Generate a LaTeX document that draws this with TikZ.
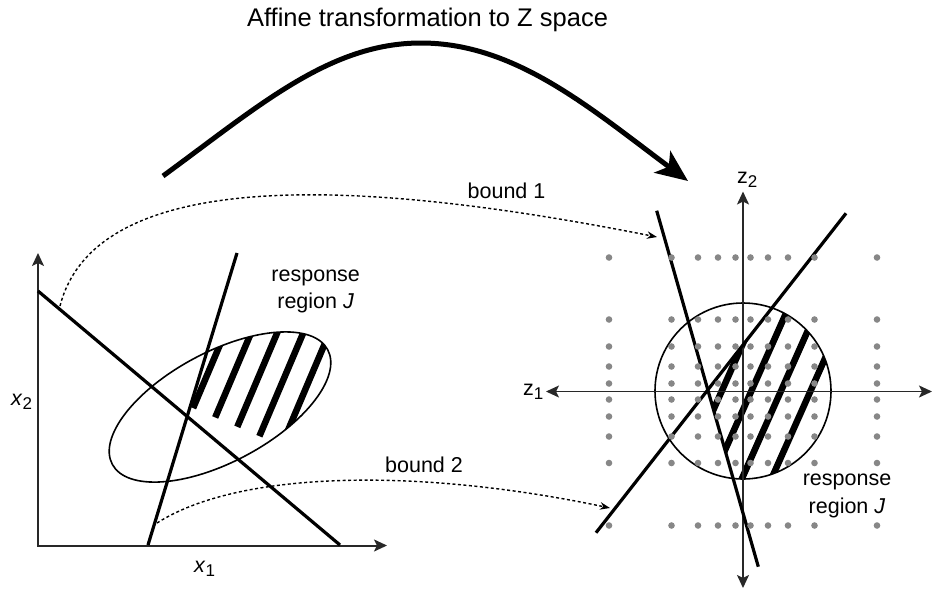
\documentclass[tikz,border=0pt]{standalone}
\usepackage{fontspec}
\setmainfont{Liberation Sans}
\usetikzlibrary{arrows.meta}
\definecolor{dotgray}{RGB}{135,135,135}
\definecolor{axisgray}{RGB}{40,40,40}
\newcommand{\lowsub}[1]{\raisebox{-4pt}{\fontsize{17}{17}\selectfont #1}}
\tikzset{axtip/.tip={Stealth[length=13pt,width=12pt,inset=3pt]}}
\begin{document}
\begin{tikzpicture}[x=1pt,y=-1pt,
  lbl/.style={font=\fontsize{21.5}{26}\selectfont, inner sep=0pt, anchor=base},
  axlbl/.style={font=\fontsize{21.5}{26}\selectfont, inner sep=0pt, anchor=base west},
  axisline/.style={line width=2pt, draw=axisgray},
  zaxisline/.style={line width=1.6pt, draw=axisgray},
  boundline/.style={line width=3.2pt},
  hatchline/.style={line width=6.5pt},
  rim/.style={line width=1.6pt},
  conn/.style={line width=1.4pt, dash pattern=on 3pt off 2.5pt, -{Stealth[length=10pt,width=7.5pt]}},
  bigarrow/.style={line width=5pt, -{Stealth[length=32pt,width=27pt,inset=8pt]}}
]
\useasboundingbox (0,0) rectangle (934,590);

% ---------- title and big arrow ----------
\node[font=\fontsize{25.5}{30}\selectfont, inner sep=0pt, anchor=base] (title) at (427.5,26.7) {Affine transformation to Z space};
\coordinate (arcS) at (163,176);
\coordinate (arcM) at (421,43);
\coordinate (arcE) at (688,181);
\draw[bigarrow] (arcS) .. controls (260,105) and (330,43) .. (arcM) .. controls (515,43) and (590,108) .. (arcE);

% ---------- left plot ----------
\coordinate (O) at (38,545.5);
\coordinate (X2) at (38,253);
\coordinate (X1) at (387,545.5);
\coordinate (L1a) at (38,291);
\coordinate (L1b) at (340,545);
\coordinate (L2a) at (148,545);
\coordinate (L2b) at (237,253);
\coordinate (E) at (220,407);
\coordinate (P) at (187.2,416.5);

\begin{scope}
  \clip[rotate around={28:(E)}] (E) ellipse [x radius=122, y radius=55];
  \clip (P) -- (253.2,200) -- (450,200) -- (450,637.5) -- cycle;
  \foreach \c in {337,361,385,409,433}
    \draw[hatchline] ({\c*0.921-300*0.391},{\c*0.391+300*0.921}) -- ({\c*0.921+300*0.391},{\c*0.391-300*0.921});
\end{scope}
\draw[rim, rotate around={28:(E)}] (E) ellipse [x radius=122, y radius=55];

\draw[axisline, axtip-axtip] (X2) -- (O) -- (X1);
\draw[boundline] (L1a) -- (L1b);
\draw[boundline] (L2a) -- (L2b);

\node[axlbl] (x2lab) at (11,405) {\textit{x}\lowsub{2}};
\node[axlbl] (x1lab) at (194,572) {\textit{x}\lowsub{1}};
\node[lbl] (resL1) at (315.7,281) {response};
\node[lbl] (resL2) at (315.7,308.5) {region \textit{J}};

% ---------- connectors ----------
\coordinate (b1s) at (60,306);
\coordinate (b1e) at (657,237);
\coordinate (b2s) at (157,523);
\coordinate (b2e) at (610,508);
\draw[conn] (b1s) .. controls (100,150) and (420,190) .. (b1e);
\draw[conn] (b2s) .. controls (240,470) and (420,468) .. (b2e);
\node[lbl] (bnd1) at (506.5,198) {bound 1};
\node[lbl] (bnd2) at (424,472) {bound 2};

% ---------- right plot ----------
\coordinate (C) at (743,391);
\coordinate (Z1l) at (546,391.5);
\coordinate (Z1r) at (932,391.5);
\coordinate (Z2t) at (743,191.5);
\coordinate (Z2b) at (743,588);
\coordinate (A1) at (656.7,210.7);
\coordinate (A2) at (758.3,566.7);
\coordinate (B1) at (596,532.7);
\coordinate (B2) at (846,213.3);
\coordinate (V) at (707.8,389.8);

\begin{scope}
  \clip (C) circle [radius=88];
  \clip (V) -- (896,149.4) -- (1000,149.4) -- (1000,700) -- (788.8,673.5) -- cycle;
  \foreach \c in {818,845,872,899}
    \draw[hatchline] ({\c*0.914-300*0.407},{\c*0.407+300*0.914}) -- ({\c*0.914+300*0.407},{\c*0.407-300*0.914});
\end{scope}
\draw[rim] (C) circle [radius=88];
\draw[zaxisline, axtip-axtip] (Z1l) -- (Z1r);
\draw[zaxisline, axtip-axtip] (Z2t) -- (Z2b);
\draw[boundline] (A1) -- (A2);
\draw[boundline] (B1) -- (B2);

\foreach \dx in {-134,-71.5,-45,-25,-7.5,7.5,25,45,71.5,134}
  \foreach \dy in {-134,-72,-45,-25,-8,8,25,45,71.5,134}
    \fill[dotgray] ({743+\dx},{391.5+\dy}) circle [radius=3.3];

\node[axlbl] (z2lab) at (737,183) {z\lowsub{2}};
\node[axlbl] (z1lab) at (523,395) {z\lowsub{1}};
\node[lbl] (resR1) at (847,485) {response};
\node[lbl] (resR2) at (847,513) {region \textit{J}};
\end{tikzpicture}
\end{document}
